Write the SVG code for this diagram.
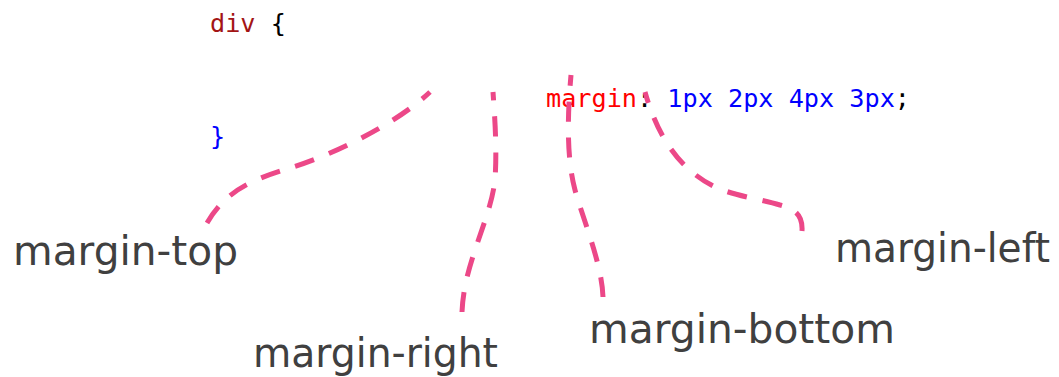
<svg xmlns="http://www.w3.org/2000/svg" width="1059" height="377" viewBox="0 0 1059 377">
<style>
.code{font-family:"DejaVu Sans Mono","Liberation Mono",monospace;font-size:25.2px;white-space:pre}
.kw{fill:#a31515}.prop{fill:#ff0000}.val{fill:#0000ff}.pn{fill:#000000}
.lbl{font-family:"DejaVu Sans","Liberation Sans",sans-serif;font-size:40px;fill:#404040}
.conn{fill:none;stroke:#ec4888;stroke-width:5;stroke-dasharray:20 16;stroke-linecap:butt}
</style>
<rect width="1059" height="377" fill="#ffffff"/>
<g id="code">
<text class="code" x="210" y="32"><tspan class="kw">div</tspan><tspan class="pn"> {</tspan></text>
<text class="code" x="546" y="107"><tspan class="prop">margin</tspan><tspan class="pn">: </tspan><tspan class="val">1px 2px 4px 3px</tspan><tspan class="pn">;</tspan></text>
<text class="code val" x="210" y="145">}</text>
</g>
<g id="connectors">
<path class="conn" d="M207,223 C225,192 250,180 290,168 C330,156 395,125 430,92"/>
<path class="conn" d="M462,312 C464,262 490,222 495,180 C497,150 495,120 493,92"/>
<path class="conn" d="M603,297 C602,265 585,225 575,190 C567,160 567,120 571,75"/>
<path class="conn" d="M802,231 C803,215 795,209 780,205 C760,199 735,196 715,187 C685,172 660,145 645,92"/>
</g>
<g id="label-margin-top"><text class="lbl" x="13" y="265" textLength="225" lengthAdjust="spacingAndGlyphs">margin-top</text></g>
<g id="label-margin-right"><text class="lbl" x="253" y="367" textLength="245" lengthAdjust="spacingAndGlyphs">margin-right</text></g>
<g id="label-margin-bottom"><text class="lbl" x="589" y="343" textLength="306" lengthAdjust="spacingAndGlyphs">margin-bottom</text></g>
<g id="label-margin-left"><text class="lbl" x="835" y="262" textLength="215" lengthAdjust="spacingAndGlyphs">margin-left</text></g>
</svg>
